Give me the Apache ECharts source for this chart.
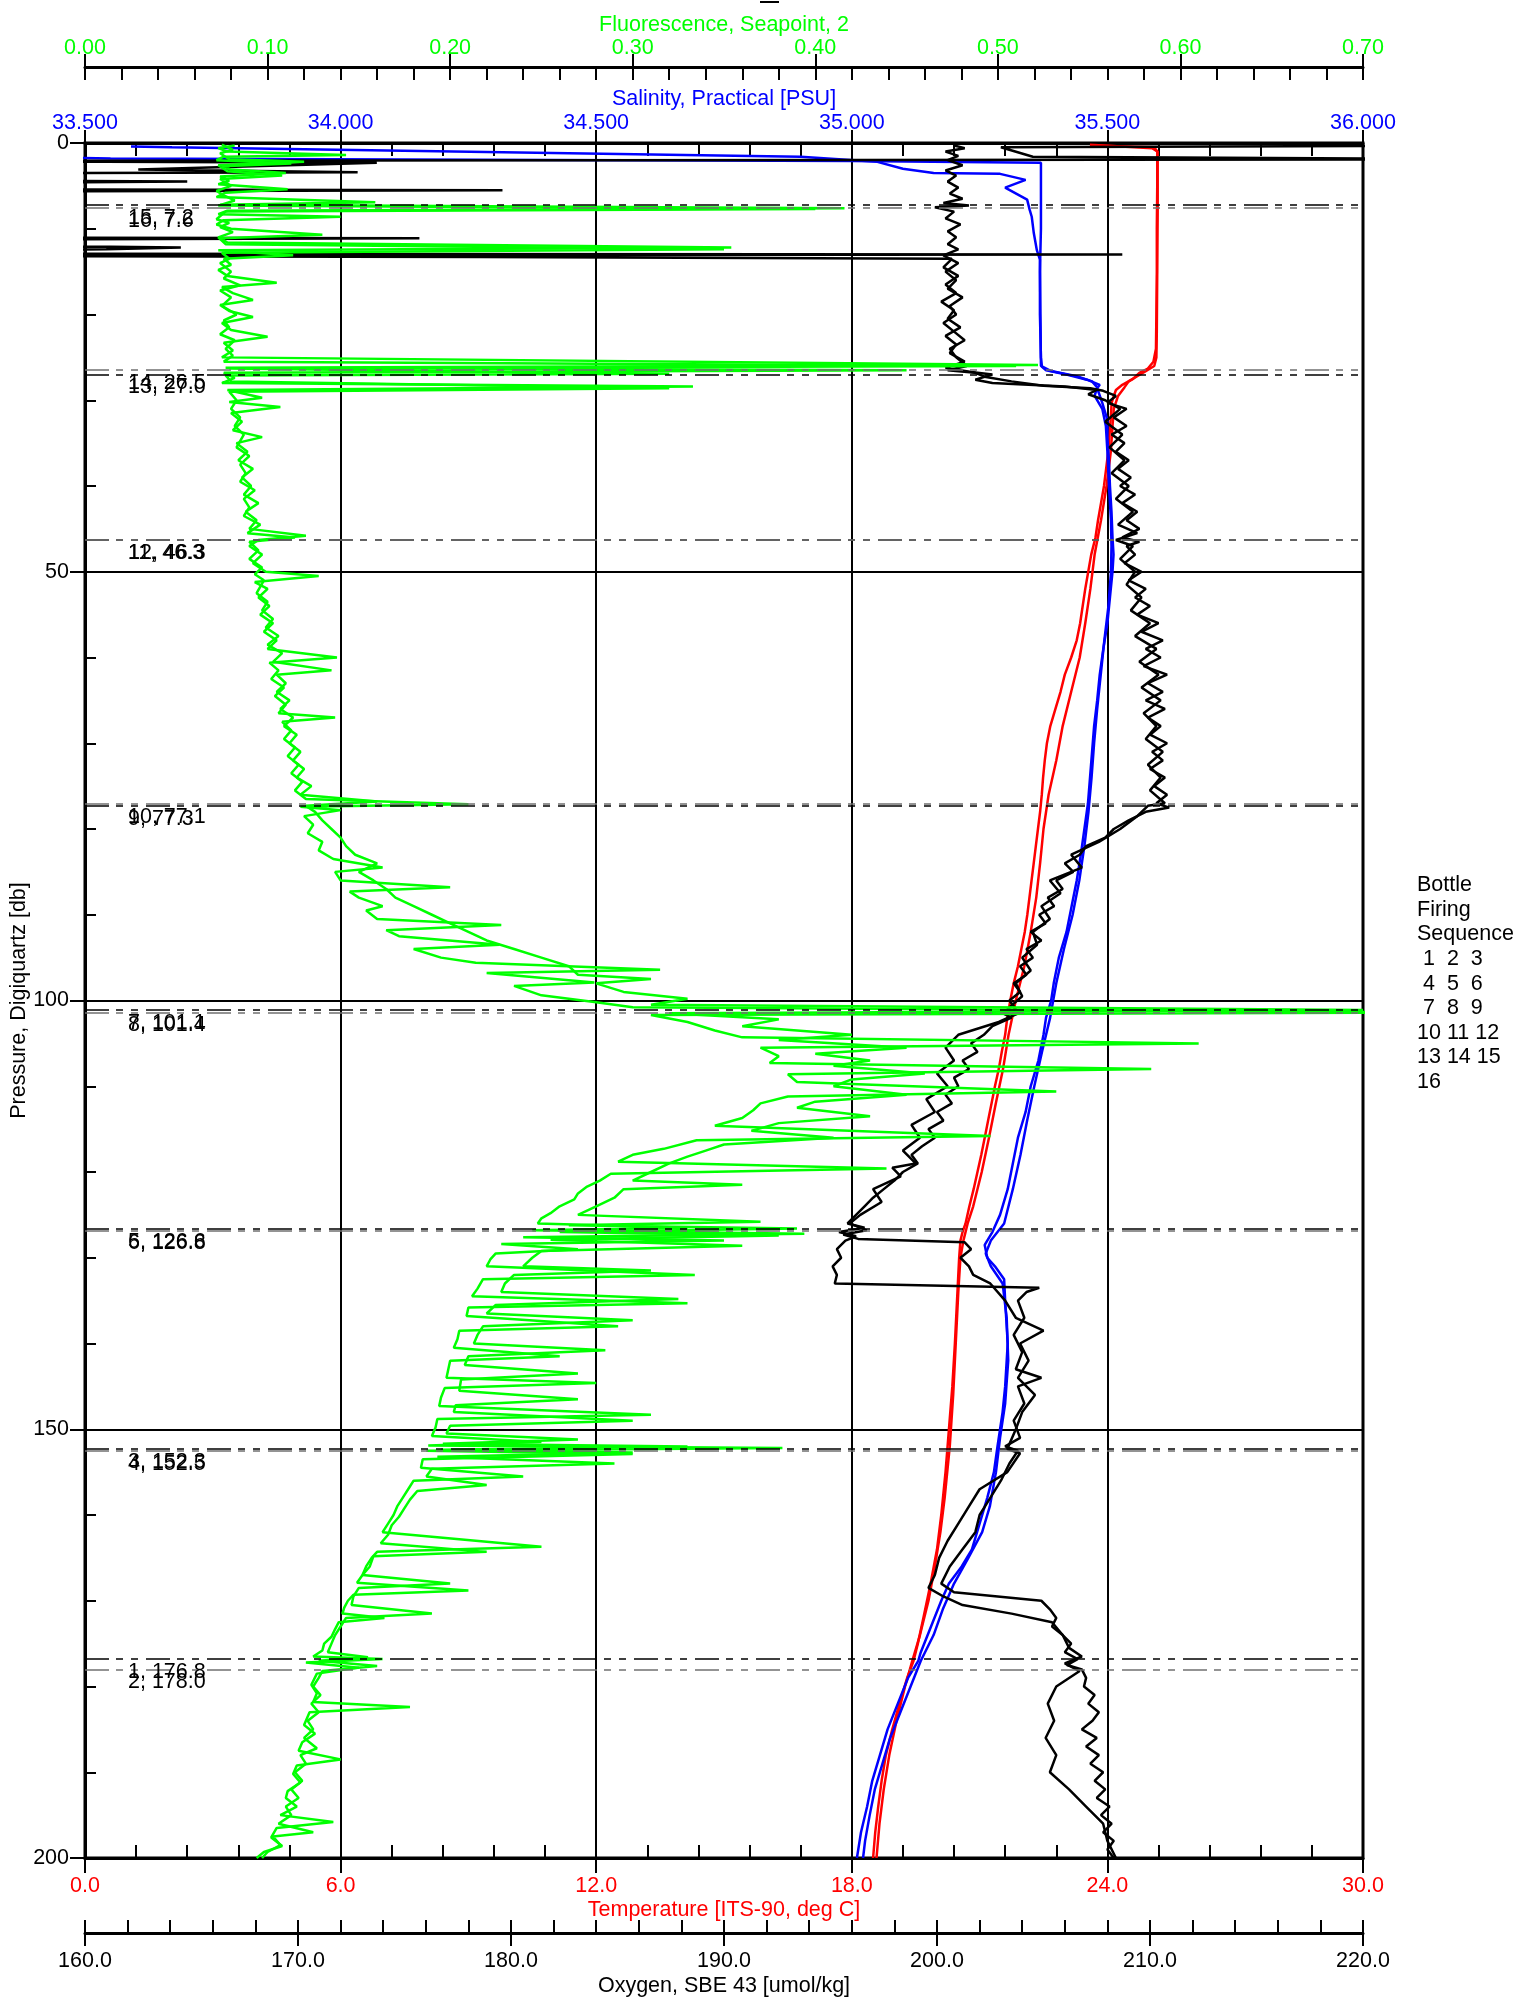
<!DOCTYPE html>
<html><head><meta charset="utf-8">
<script src="https://cdn.jsdelivr.net/npm/echarts@6.0.0/dist/echarts.min.js"></script>
<style>html,body{margin:0;padding:0;background:#fff}#c{width:1521px;height:2001px}</style>
</head><body><div id="c"></div>
<script>
// ---------- DATA (pairs are [pressure db, value]) ----------
const tempDown = [[0.3,23.6],[0.5,25.1],[1,25.17],[5,25.17],[10,25.16],[15,25.16],[20,25.15],[24,25.14],[25.5,25.08],[26.3,24.95],[26.8,24.75],[27.5,24.6],[28.2,24.35],[28.8,24.2],[29.5,24.15],[30.3,24.1],[32,24.08],[34,24.05],[36,24.02],[38,23.97],[40,23.92],[42,23.85],[44,23.78],[46,23.72],[48,23.62],[50,23.55],[52,23.48],[54,23.42],[56,23.36],[58,23.28],[60,23.15],[62,23.0],[64,22.9],[66,22.78],[68,22.66],[70,22.58],[72,22.53],[74,22.49],[76,22.46],[78,22.42],[80,22.37],[82,22.32],[84,22.27],[86,22.22],[88,22.17],[90,22.12],[92,22.06],[94,21.98],[96,21.9],[98,21.8],[100,21.72],[102,21.65],[104,21.6],[106,21.52],[108,21.45],[110,21.36],[112,21.28],[114,21.2],[116,21.12],[118,21.04],[120,20.95],[122,20.86],[124,20.76],[126,20.67],[127,20.6],[128,20.55],[130,20.52],[132,20.5],[135,20.47],[140,20.42],[145,20.36],[150,20.28],[155,20.2],[160,20.1],[164,20.0],[168,19.85],[172,19.68],[175,19.55],[177,19.45],[179,19.3],[182,19.12],[185,18.95],[188,18.8],[191,18.7],[194,18.62],[197,18.55],[200,18.5]];
const tempUp = [[0.2,23.59],[0.6,25.05],[1,25.18],[8,25.18],[15,25.17],[22,25.16],[25,25.15],[26,25.1],[26.6,24.9],[27.2,24.7],[27.8,24.5],[28.5,24.4],[29.5,24.25],[31,24.15],[33,24.12],[36,24.08],[40,23.98],[44,23.85],[48,23.7],[52,23.6],[56,23.48],[60,23.35],[64,23.15],[68,22.95],[72,22.8],[76,22.62],[80,22.5],[84,22.42],[88,22.33],[92,22.2],[96,22.05],[100,21.85],[104,21.68],[108,21.55],[112,21.38],[116,21.22],[120,21.05],[124,20.85],[126,20.72],[128,20.62],[130,20.55],[134,20.5],[140,20.44],[146,20.38],[152,20.3],[158,20.18],[162,20.08],[166,19.95],[170,19.8],[174,19.6],[177,19.42],[180,19.25],[184,19.05],[188,18.88],[192,18.75],[196,18.65],[200,18.58]];

const salDown = [[1.6,33.3],[1.8,33.55],[2.1,35.0],[2.3,35.37],[5,35.37],[10,35.37],[15,35.368],[20,35.368],[25,35.37],[26.1,35.372],[26.5,35.38],[27.0,35.42],[27.6,35.46],[28.2,35.485],[28.6,35.48],[30.3,35.49],[32.3,35.5],[34.3,35.5],[37,35.503],[40,35.505],[43,35.508],[46,35.51],[48,35.512],[50,35.51],[53,35.505],[56,35.5],[59,35.492],[62,35.485],[65,35.48],[68,35.474],[71,35.47],[74,35.466],[77,35.462],[80,35.455],[83,35.448],[86,35.44],[89,35.43],[92,35.42],[95,35.405],[98,35.395],[100,35.39],[101,35.385],[102,35.38],[104,35.375],[107,35.365],[110,35.35],[113,35.34],[116,35.325],[119,35.315],[122,35.305],[125,35.29],[127,35.275],[128.5,35.26],[130,35.265],[131,35.28],[132.5,35.298],[135,35.3],[140,35.305],[145,35.3],[148,35.295],[152,35.285],[155,35.278],[158,35.265],[161,35.25],[164,35.235],[166,35.215],[168,35.19],[170,35.175],[173,35.155],[176,35.135],[177,35.13],[179,35.11],[182,35.09],[185,35.07],[188,35.055],[191,35.04],[194,35.03],[197,35.018],[200,35.01]];
const salUp = [[0.4,33.59],[0.5,33.67],[1.6,34.9],[2.2,35.05],[3.0,35.1],[3.5,35.16],[3.6,35.29],[4.3,35.34],[5.2,35.30],[6.6,35.343],[7.8,35.348],[8.6,35.352],[10.5,35.356],[12.5,35.362],[13.6,35.368],[20,35.369],[26,35.37],[26.6,35.39],[27.2,35.44],[27.8,35.47],[28.5,35.48],[29.5,35.475],[31,35.49],[33,35.497],[36,35.5],[40,35.503],[44,35.507],[47,35.508],[50,35.507],[54,35.502],[58,35.494],[62,35.487],[66,35.48],[70,35.474],[74,35.469],[78,35.463],[82,35.455],[86,35.445],[90,35.432],[94,35.415],[98,35.4],[102,35.388],[106,35.372],[110,35.357],[114,35.343],[118,35.33],[122,35.315],[126,35.298],[128,35.272],[129.5,35.262],[131,35.272],[133,35.295],[137,35.303],[142,35.306],[147,35.3],[151,35.29],[155,35.282],[159,35.27],[162,35.255],[165,35.228],[168,35.2],[171,35.178],[174,35.16],[177,35.135],[180,35.115],[183,35.095],[186,35.075],[189,35.06],[192,35.045],[195,35.035],[198,35.026],[200,35.022]];

const oxyDown = [[0.3,200.8],[0.6,201.3],[1.0,200.4],[1.5,201.0],[2.0,200.5],[2.6,201.2],[3.2,200.4],[3.8,200.9],[4.5,200.5],[5.2,201.0],[5.9,200.6],[6.5,201.2],[7.0,200.3],[7.3,201.5],[7.5,199.9],[8.0,200.8],[8.8,200.4],[9.5,201.1],[10.3,200.5],[11.0,200.9],[11.8,200.5],[12.4,201.0],[13.1,200.3],[14,201.0],[15,200.4],[16,200.9],[17,200.5],[18,201.2],[19,200.6],[20,200.9],[21,200.3],[22,200.8],[23,201.3],[24,200.6],[25,200.9],[26,201.4],[26.5,200.5],[26.8,201.8],[27.3,202.3],[27.8,203.5],[28.3,205.0],[28.6,207.2],[28.9,207.8],[29.5,208.4],[30.3,208.0],[31,208.9],[32,208.3],[33,208.9],[34,208.2],[35,208.8],[36,208.4],[37,209.0],[38,208.5],[39,209.1],[40,208.6],[41,209.3],[42,208.7],[43,209.4],[44,208.9],[45,209.5],[46,208.7],[46.5,209.5],[47,208.9],[48,209.3],[49,208.8],[50,209.6],[51,209.0],[52,209.8],[53,209.3],[54,210.0],[55,209.4],[56,210.4],[57,209.6],[58,210.6],[59,209.8],[60,210.5],[61,209.7],[62,210.8],[63,209.9],[64,210.6],[65,209.8],[66,210.7],[67,209.9],[68,210.5],[69,210.0],[70,210.8],[71,210.1],[72,210.6],[73,210.0],[74,210.7],[75,210.2],[76,210.8],[77,210.3],[77.5,210.9],[78,209.8],[79,209.0],[80,208.3],[81,207.9],[82,207.0],[83,206.7],[84,206.0],[85,206.4],[86,205.6],[87,205.9],[88,205.2],[89,205.5],[90,204.8],[91,205.1],[92,204.4],[93,204.9],[94,204.2],[95,204.5],[96,203.9],[97,204.2],[98,203.6],[99,203.9],[100,203.4],[101,203.7],[101.5,203.1],[102,203.5],[103,202.6],[104,202.2],[105,201.6],[106,201.9],[107,201.2],[108,201.5],[109,200.8],[110,201.0],[111,200.4],[112,200.7],[113,200.0],[114,200.3],[115,199.6],[116,199.9],[117,199.3],[118,198.8],[119,199.1],[120,198.4],[121,198.0],[122,197.5],[123,197.0],[124,196.6],[125,196.2],[126,195.8],[126.5,196.6],[127,195.4],[127.5,196.2],[128,195.7],[129,195.3],[130,195.5],[131,195.1],[132,195.3],[133,195.2],[133.5,204.8],[134,204.2],[135,203.8],[137,204.1],[139,203.6],[141,204.0],[143,203.7],[144,204.9],[145,203.8],[147,204.1],[149,203.6],[151,203.9],[152,203.2],[152.5,203.8],[154,203.4],[156,203.0],[158,202.5],[160,202.0],[162,201.8],[164,201.2],[166,200.6],[168,200.2],[169,200.8],[170,204.9],[171,205.3],[172,205.6],[173,205.4],[174,205.9],[175,206.3],[176,206.0],[176.8,206.6],[177.5,206.1],[178,206.8],[179,207.0],[180,206.9],[181,207.4],[182,207.1],[183,207.6],[184,207.3],[185,206.8],[186,207.5],[187,207.0],[188,207.6],[189,207.2],[190,207.8],[191,207.4],[192,207.9],[193,207.5],[194,208.1],[195,207.7],[196,208.2],[197,207.8],[198,208.3],[199,208.0],[200,208.3]];
const oxyUp = [[0.3,226],[0.5,203.0],[1.6,204.5],[1.9,226],[2.1,150],[2.2,160.9],[2.3,173.7],[3.1,162.5],[3.4,172.8],[3.6,150],[4.3,150],[4.5,164.8],[4.7,150],[5.4,150],[5.5,179.6],[5.7,150],[11.0,150],[11.1,175.7],[11.3,150],[12.0,150],[12.1,161.2],[12.2,164.5],[12.4,161.0],[12.6,150],[12.9,150],[13.0,208.7],[13.15,150],[13.3,178.5],[13.5,200.7],[14.5,200.3],[15.5,201.0],[16.5,200.4],[17.5,200.9],[18.5,200.2],[19.5,200.8],[20.5,200.5],[21.5,201.1],[22.5,200.4],[23.5,200.9],[24.5,200.6],[25.5,201.3],[26.2,200.4],[26.7,201.6],[27.0,202.6],[27.6,201.8],[28.0,202.6],[28.4,206.0],[28.8,207.5],[29.3,207.1],[30.0,207.9],[31,208.6],[32.5,207.9],[34,208.7],[35.5,208.1],[37,208.8],[38.5,208.2],[40,209.0],[41.5,208.4],[43,209.2],[44.5,208.5],[45.5,209.4],[46.3,208.4],[47,209.2],[48.5,208.6],[50,209.3],[51.5,208.9],[53,209.6],[54.5,209.1],[56,210.0],[57.5,209.3],[59,210.3],[60.5,209.5],[62,210.4],[63.5,209.6],[65,210.5],[66.5,209.7],[68,210.3],[69.5,209.8],[71,210.6],[72.5,209.9],[74,210.5],[75.5,210.0],[77,210.7],[77.3,209.9],[78.5,209.4],[80,208.6],[81.5,207.6],[83,206.3],[84.5,206.8],[86,205.3],[87.5,205.8],[89,204.9],[90.5,205.3],[92,204.5],[93.5,204.7],[95,204.0],[96.5,204.4],[98,203.7],[99.5,204.0],[101,203.3],[101.4,203.9],[102.5,202.9],[104,201.0],[105.5,200.4],[107,200.8],[108.5,200.0],[110,200.5],[111.5,199.5],[113,199.9],[114.5,198.8],[116,199.2],[117.5,198.4],[119,199.0],[119.5,197.9],[120.5,198.3],[122,197.0],[123.5,197.4],[125,196.4],[126,195.9],[126.8,196.7],[127.3,195.6],[127.8,196.3],[128.2,201.3],[129,201.6],[130,201.1],[131,201.5],[132,201.7],[133,202.5],[135,203.2],[137,203.7],[138.5,205.0],[140,203.9],[142,204.3],[144,203.8],[146,204.6],[148,204.0],[150,203.7],[152.3,203.3],[152.8,203.9],[155,203.3],[157,202.0],[159,201.5],[161,201.0],[163,200.5],[165,200.1],[167,199.9],[168.5,199.6],[169.5,200.3],[170.5,201.2],[171.5,203.5],[172.5,205.4],[174,205.9],[175.5,206.2],[176.5,206.8],[177.3,206.0],[178.2,206.7],[180,205.6],[182,205.2],[184,205.5],[186,205.1],[188,205.6],[190,205.3],[192,206.2],[194,207.0],[196,207.8],[198,208.0],[200,208.4]];

const fluoDown = [[0.3,0.082],[0.6,0.073],[1.0,0.078],[1.4,0.143],[1.6,0.076],[2.0,0.072],[2.4,0.113],[2.7,0.075],[3.1,0.08],[3.5,0.11],[3.9,0.074],[4.4,0.079],[4.8,0.073],[5.4,0.111],[5.8,0.077],[6.3,0.072],[6.9,0.159],[7.2,0.074],[7.6,0.416],[7.9,0.078],[8.3,0.073],[8.6,0.14],[9.0,0.076],[9.5,0.072],[10.0,0.08],[10.7,0.13],[11.1,0.074],[11.6,0.078],[12.2,0.354],[12.5,0.073],[13.1,0.114],[13.5,0.076],[14.2,0.08],[14.8,0.073],[15.5,0.078],[16.3,0.105],[16.8,0.075],[17.5,0.081],[18.3,0.092],[18.9,0.074],[19.6,0.079],[20.3,0.092],[21.0,0.075],[21.8,0.08],[22.6,0.1],[23.3,0.076],[24.2,0.081],[25.0,0.075],[25.9,0.522],[26.2,0.077],[26.5,0.45],[26.8,0.076],[27.4,0.082],[28.0,0.075],[28.4,0.333],[28.8,0.078],[29.7,0.097],[30.2,0.079],[30.8,0.107],[31.5,0.08],[32.5,0.086],[33.5,0.081],[34.3,0.097],[35.0,0.083],[36.0,0.089],[37.0,0.084],[38.0,0.092],[39.0,0.086],[40.0,0.091],[41.0,0.087],[42.0,0.095],[43.0,0.088],[44.0,0.094],[45.0,0.09],[45.8,0.121],[46.3,0.095],[47.0,0.09],[48.0,0.097],[49.0,0.092],[50.0,0.099],[50.5,0.128],[51.2,0.093],[52.0,0.1],[53.0,0.095],[54.0,0.101],[55.0,0.096],[56.0,0.103],[57.0,0.098],[58.0,0.105],[59.0,0.1],[60.0,0.138],[60.6,0.101],[61.5,0.106],[62.5,0.102],[63.5,0.109],[64.5,0.104],[65.5,0.11],[66.5,0.106],[67.0,0.137],[67.5,0.108],[68.5,0.113],[69.5,0.109],[70.5,0.115],[71.5,0.111],[72.5,0.117],[73.5,0.113],[74.5,0.119],[75.5,0.115],[76.5,0.121],[77.1,0.21],[77.4,0.118],[77.8,0.14],[78.5,0.12],[79.5,0.125],[80.5,0.122],[81.5,0.13],[82.5,0.128],[83.5,0.136],[84.5,0.163],[85.0,0.137],[86.0,0.14],[86.8,0.2],[87.3,0.145],[88.0,0.15],[89.0,0.163],[89.5,0.154],[90.5,0.16],[91.2,0.228],[91.8,0.165],[92.5,0.172],[93.5,0.227],[94.0,0.18],[95.0,0.195],[95.6,0.214],[96.4,0.315],[96.8,0.22],[97.9,0.279],[98.3,0.235],[99.4,0.25],[100.2,0.28],[100.8,0.3],[101.4,0.75],[101.7,0.31],[102.5,0.33],[103.5,0.345],[104.3,0.36],[105.0,0.61],[105.5,0.37],[106.5,0.38],[107.3,0.375],[108.0,0.584],[108.6,0.385],[109.5,0.39],[110.6,0.532],[111.2,0.385],[112.0,0.37],[112.8,0.366],[113.7,0.36],[114.6,0.345],[115.8,0.496],[116.3,0.335],[117.3,0.317],[118.0,0.3],[118.8,0.292],[119.6,0.439],[120.2,0.288],[121.0,0.282],[121.7,0.275],[122.5,0.27],[123.2,0.268],[124.0,0.26],[124.8,0.255],[125.4,0.25],[126.0,0.248],[126.5,0.33],[126.8,0.245],[127.2,0.394],[127.6,0.24],[128.0,0.35],[128.4,0.228],[129.0,0.27],[129.5,0.225],[130.2,0.222],[131.0,0.22],[132.0,0.334],[132.5,0.218],[133.6,0.215],[134.5,0.212],[135.3,0.33],[135.8,0.21],[136.8,0.209],[138.0,0.292],[138.5,0.205],[139.5,0.204],[140.5,0.202],[141.5,0.26],[142.0,0.2],[143.0,0.199],[144.0,0.198],[144.6,0.28],[145.2,0.197],[146.3,0.195],[147.3,0.194],[148.3,0.31],[148.8,0.193],[149.8,0.192],[150.8,0.19],[151.5,0.25],[151.9,0.188],[152.2,0.382],[152.5,0.187],[152.9,0.3],[153.5,0.185],[154.5,0.184],[155.5,0.24],[156.0,0.18],[157.0,0.177],[158.0,0.174],[159.0,0.171],[160.0,0.169],[161.0,0.166],[162.0,0.163],[163.7,0.25],[164.3,0.16],[165.0,0.157],[166.0,0.154],[167.0,0.152],[167.9,0.149],[168.8,0.21],[169.3,0.147],[170.0,0.144],[170.8,0.142],[171.5,0.141],[172.0,0.164],[172.5,0.139],[173.3,0.137],[174.2,0.135],[175.0,0.131],[175.8,0.13],[176.5,0.125],[176.8,0.163],[177.2,0.121],[177.8,0.15],[178.5,0.127],[179.8,0.124],[180.8,0.127],[181.8,0.125],[182.4,0.178],[183.0,0.123],[184.5,0.12],[185.5,0.126],[186.5,0.119],[187.5,0.117],[188.5,0.14],[189.2,0.116],[190.2,0.114],[191.2,0.118],[192.2,0.111],[193.0,0.11],[194.0,0.116],[195.0,0.107],[195.8,0.136],[196.5,0.105],[197.6,0.102],[198.6,0.108],[199.3,0.098],[200,0.094]];
const fluoUp = [[0.2,0.075],[0.8,0.081],[1.2,0.074],[1.9,0.079],[2.2,0.12],[2.6,0.073],[3.3,0.078],[3.8,0.108],[4.2,0.074],[5.0,0.08],[5.6,0.072],[6.1,0.076],[6.7,0.082],[7.3,0.073],[7.7,0.4],[8.0,0.077],[8.9,0.072],[9.3,0.079],[9.8,0.074],[10.4,0.081],[11.0,0.073],[11.8,0.077],[12.4,0.35],[12.8,0.075],[13.5,0.079],[14.0,0.074],[15.0,0.08],[15.8,0.076],[16.6,0.085],[17.2,0.074],[18.0,0.08],[19.0,0.075],[20.0,0.083],[20.7,0.076],[21.5,0.079],[22.3,0.074],[23.0,0.082],[24.0,0.077],[24.8,0.081],[25.5,0.076],[26.0,0.51],[26.3,0.079],[26.9,0.32],[27.1,0.077],[27.8,0.08],[28.6,0.32],[29.0,0.079],[30.0,0.083],[31.0,0.08],[32.0,0.085],[33.0,0.082],[34.0,0.087],[35.5,0.083],[36.5,0.09],[37.5,0.085],[38.5,0.088],[39.5,0.085],[40.5,0.093],[41.5,0.087],[42.5,0.09],[43.5,0.087],[44.5,0.096],[45.5,0.089],[46.0,0.115],[46.5,0.09],[47.5,0.095],[48.5,0.09],[49.5,0.097],[50.3,0.093],[51.0,0.098],[52.5,0.094],[53.5,0.1],[54.5,0.097],[55.5,0.103],[56.5,0.099],[57.5,0.106],[58.5,0.1],[59.5,0.108],[60.5,0.103],[61.5,0.135],[62.0,0.105],[63.0,0.11],[64.0,0.105],[65.0,0.112],[66.0,0.107],[67.0,0.114],[68.0,0.109],[69.0,0.116],[70.0,0.112],[71.0,0.118],[72.0,0.114],[73.0,0.12],[74.0,0.116],[75.0,0.124],[76.0,0.118],[76.8,0.16],[77.3,0.121],[78.0,0.126],[79.0,0.13],[80.0,0.135],[81.0,0.14],[82.0,0.143],[83.0,0.148],[84.0,0.16],[85.0,0.15],[86.0,0.158],[87.0,0.165],[88.0,0.17],[89.0,0.18],[90.0,0.19],[91.0,0.2],[92.0,0.21],[93.0,0.22],[94.0,0.235],[95.0,0.25],[96.0,0.265],[97.0,0.27],[97.5,0.31],[98.0,0.28],[99.0,0.295],[99.8,0.33],[100.5,0.31],[101.1,0.7],[101.5,0.32],[102.2,0.38],[103.0,0.36],[104.0,0.42],[104.6,0.38],[105.5,0.45],[106.2,0.4],[107.0,0.43],[107.6,0.41],[108.5,0.46],[109.2,0.42],[110.0,0.41],[111.0,0.45],[111.8,0.4],[112.5,0.39],[113.5,0.43],[114.3,0.38],[115.2,0.365],[116.0,0.41],[116.8,0.35],[117.5,0.34],[118.2,0.33],[119.0,0.32],[120.0,0.31],[121.0,0.3],[121.5,0.36],[122.0,0.295],[123.0,0.29],[124.0,0.28],[125.0,0.27],[125.8,0.37],[126.2,0.265],[126.6,0.39],[127.0,0.26],[127.4,0.38],[127.9,0.255],[128.6,0.36],[129.2,0.25],[130.0,0.245],[131.0,0.24],[131.5,0.31],[132.0,0.235],[133.0,0.23],[134.0,0.228],[134.8,0.325],[135.5,0.225],[136.5,0.22],[137.3,0.3],[138.0,0.218],[139.0,0.215],[140.0,0.213],[140.8,0.285],[141.5,0.21],[142.5,0.208],[143.5,0.27],[144.2,0.206],[145.5,0.205],[146.5,0.27],[147.2,0.203],[148.0,0.202],[149.0,0.3],[149.6,0.2],[150.5,0.198],[151.2,0.27],[151.7,0.196],[152.0,0.33],[152.4,0.195],[152.7,0.3],[153.2,0.193],[154.0,0.29],[154.6,0.19],[155.5,0.187],[156.5,0.22],[157.2,0.182],[158.2,0.178],[159.2,0.175],[160.2,0.172],[161.2,0.168],[162.3,0.166],[163.3,0.162],[164.3,0.22],[164.8,0.158],[166.0,0.156],[167.0,0.152],[168.0,0.2],[168.5,0.15],[169.5,0.147],[170.5,0.146],[171.5,0.19],[172.0,0.143],[173.0,0.14],[174.0,0.137],[175.0,0.135],[176.0,0.133],[176.6,0.155],[177.0,0.128],[177.6,0.16],[178.2,0.13],[179.0,0.128],[180.0,0.125],[181.0,0.129],[182.0,0.124],[183.0,0.128],[184.0,0.122],[185.0,0.125],[186.0,0.12],[187.2,0.127],[188.0,0.118],[189.0,0.121],[190.0,0.115],[191.0,0.119],[192.0,0.113],[193.0,0.117],[194.0,0.11],[195.0,0.113],[196.0,0.106],[197.0,0.125],[197.5,0.103],[198.5,0.107],[199.3,0.1],[200.0,0.097]];

const bottleNumbers = [1,2,3,4,5,6,7,8,9,10,11,12,13,14,15,16];
const bottlePressures = [176.8,178.0,152.3,152.5,126.6,126.8,101.1,101.4,77.3,77.1,46.3,46.3,27.0,26.5,7.2,7.6];
const legendLines = ['Bottle','Firing','Sequence',' 1  2  3',' 4  5  6',' 7  8  9','10 11 12','13 14 15','16'];

// ---------- CHART ----------
const FONT = '"Liberation Sans", Arial, Helvetica, sans-serif';
const FS = 21.5;
const LW = 2.5;
const RED = '#ff0000', BLUE = '#0000ff', GREEN = '#00ff00', BLACK = '#000000';
const axisLineStyle = {color: BLACK, width: 3};
const tickStyle = {color: BLACK, width: 2};

function toXY(arr) { return arr.map(d => [d[1], d[0]]); }
function lineSeries(name, arr, xi, color, extra) {
  return Object.assign({
    type: 'line', name, xAxisIndex: xi, yAxisIndex: 0, data: toXY(arr),
    symbol: 'none', showSymbol: false, silent: true, clip: true, animation: false,
    lineStyle: {color, width: LW}, itemStyle: {color}
  }, extra || {});
}
function xAx(o) {
  const base = {
    type: 'value', gridIndex: 0, scale: false,
    axisLine: {show: false, onZero: false, lineStyle: axisLineStyle},
    axisTick: {show: true, inside: true, length: 13, lineStyle: tickStyle},
    axisLabel: {show: false}, splitLine: {show: false}, minorTick: {show: false},
    nameMoveOverlap: false
  };
  return Object.assign(base, o);
}
function lbl(color, margin, fmt) {
  return {show: true, color, fontSize: FS, fontFamily: FONT, margin, formatter: fmt, hideOverlap: false};
}
function nm(color) { return {color, fontSize: FS, fontFamily: FONT}; }

const chart = echarts.init(document.getElementById('c'), null, {renderer: 'canvas', width: 1521, height: 2001});

const bottleMarks = bottleNumbers.map((n, i) => ({
  yAxis: bottlePressures[i],
  lineStyle: {color: i % 2 ? '#707070' : BLACK, width: 1.6, type: [24, 7, 7, 8, 7, 8]},
  label: {show: true, position: 'insideStartBottom', distance: [43, 2],
    formatter: n + ', ' + bottlePressures[i].toFixed(1),
    color: BLACK, fontSize: FS, fontFamily: FONT}
}));

chart.setOption({
  animation: false,
  backgroundColor: '#ffffff',
  grid: {left: 85, right: 158, top: 143, bottom: 143, show: true, borderColor: BLACK, borderWidth: 3,
    backgroundColor: 'transparent', containLabel: false, outerBoundsMode: 'none'},
  xAxis: [
    xAx({position: 'bottom', offset: 0, min: 0, max: 30, interval: 1.2}),
    xAx({position: 'bottom', offset: 0, min: 0, max: 30, interval: 6,
      axisLine: {show: true, onZero: false, lineStyle: axisLineStyle},
      axisTick: {show: true, inside: false, length: 15, lineStyle: tickStyle},
      axisLabel: lbl(RED, 17, v => v.toFixed(1)),
      splitLine: {show: true, lineStyle: {color: BLACK, width: 2}},
      name: 'Temperature [ITS-90, deg C]', nameLocation: 'middle', nameGap: 41, nameTextStyle: nm(RED)}),
    xAx({position: 'bottom', offset: 75, min: 160, max: 220, interval: 2,
      axisLine: {show: true, onZero: false, lineStyle: axisLineStyle}}),
    xAx({position: 'bottom', offset: 75, min: 160, max: 220, interval: 10,
      axisTick: {show: true, inside: false, length: 13, lineStyle: tickStyle},
      axisLabel: lbl(BLACK, 17, v => v.toFixed(1)),
      name: 'Oxygen, SBE 43 [umol/kg]', nameLocation: 'middle', nameGap: 42, nameTextStyle: nm(BLACK)}),
    xAx({position: 'top', offset: 0, min: 33.5, max: 36, interval: 0.1}),
    xAx({position: 'top', offset: 0, min: 33.5, max: 36, interval: 0.5,
      axisLine: {show: true, onZero: false, lineStyle: axisLineStyle},
      axisTick: {show: true, inside: false, length: 13, lineStyle: tickStyle},
      axisLabel: lbl(BLUE, 9, v => v.toFixed(3)),
      name: 'Salinity, Practical [PSU]', nameLocation: 'middle', nameGap: 33, nameTextStyle: nm(BLUE)}),
    xAx({position: 'top', offset: 76, min: 0, max: 0.7, interval: 0.02,
      axisLine: {show: true, onZero: false, lineStyle: axisLineStyle}}),
    xAx({position: 'top', offset: 76, min: 0, max: 0.7, interval: 0.1,
      axisTick: {show: true, inside: false, length: 13, lineStyle: tickStyle},
      axisLabel: lbl(GREEN, 8, v => v.toFixed(2)),
      name: 'Fluorescence, Seapoint, 2', nameLocation: 'middle', nameGap: 31, nameTextStyle: nm(GREEN)})
  ],
  yAxis: [
    {type: 'value', position: 'left', inverse: true, min: 0, max: 200, interval: 50,
      axisLine: {show: true, onZero: false, lineStyle: axisLineStyle},
      axisTick: {show: true, inside: false, length: 15, lineStyle: tickStyle},
      axisLabel: lbl(BLACK, 16, v => String(v)),
      splitLine: {show: true, lineStyle: {color: BLACK, width: 2}},
      minorTick: {show: false}, nameMoveOverlap: false,
      name: 'Pressure, Digiquartz [db]', nameLocation: 'middle', nameGap: 55, nameRotate: 90, nameTextStyle: nm(BLACK)},
    {type: 'value', position: 'left', inverse: true, min: 0, max: 200, interval: 10,
      axisLine: {show: false, onZero: false},
      axisTick: {show: true, inside: true, length: 11, lineStyle: tickStyle},
      axisLabel: {show: false}, splitLine: {show: false}, minorTick: {show: false}}
  ],
  series: [
    lineSeries('Temperature down', tempDown, 1, RED, {
      markLine: {silent: true, symbol: ['none', 'none'], animation: false, data: bottleMarks}
    }),
    lineSeries('Temperature up', tempUp, 1, RED),
    lineSeries('Salinity down', salDown, 5, BLUE),
    lineSeries('Salinity up', salUp, 5, BLUE),
    lineSeries('Oxygen down', oxyDown, 3, BLACK),
    lineSeries('Oxygen up', oxyUp, 3, BLACK),
    lineSeries('Fluorescence down', fluoDown, 7, GREEN),
    lineSeries('Fluorescence up', fluoUp, 7, GREEN)
  ],
  graphic: [
    {type: 'text', left: 1417, top: 873, silent: true,
      style: {text: legendLines.join('\n'), font: FS + 'px ' + FONT, fill: BLACK, lineHeight: 24.6}},
    {type: 'rect', silent: true, shape: {x: 760, y: 1, width: 19, height: 2}, style: {fill: BLACK}}
  ]
});
</script></body></html>
